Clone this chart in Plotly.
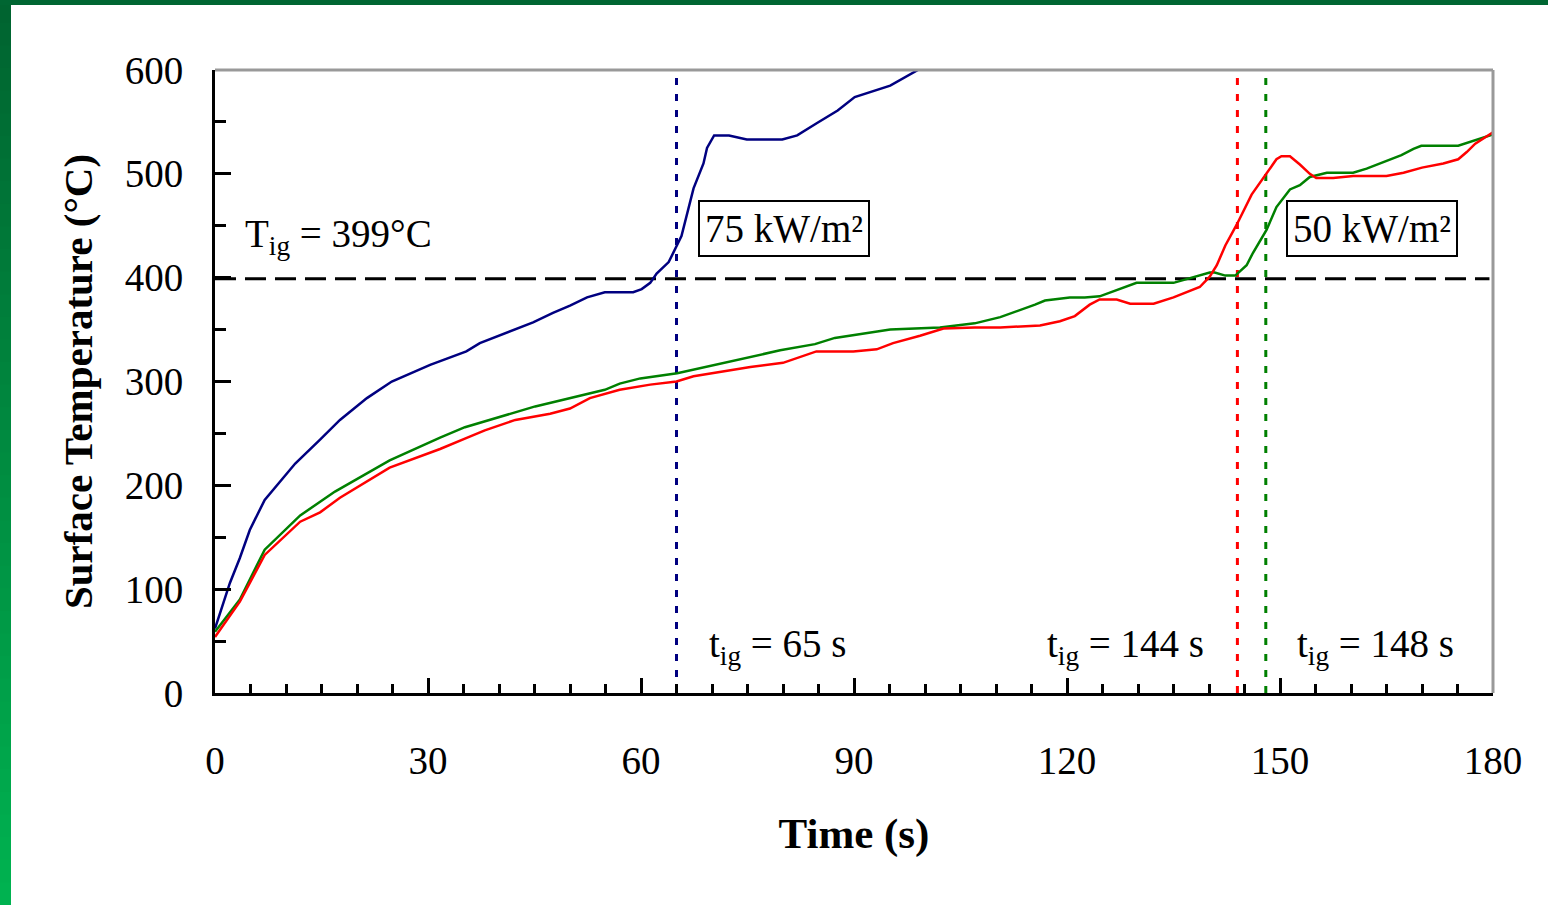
import plotly.graph_objects as go

# ---- data ----
blue_t = [0, 2.1, 3.5, 4.9, 7.0, 11.3, 14.8, 17.6, 21.4, 24.9, 30.3, 35.4, 37.3, 44.8, 47.6, 50.0, 52.4, 54.9, 58.9, 60.1,
          61.3, 62.2, 63.9, 64.6, 65.7, 67.4, 68.8, 69.3, 70.3, 72.4, 74.9, 79.9, 82.0, 84.8, 87.7, 90.1, 93.0, 95.1, 99.0, 102.0]
blue_T = [62, 106, 130, 157, 186, 221, 244, 263, 284, 300, 316, 329, 337, 357, 366, 373, 381, 386, 386, 389,
          395, 404, 415, 425, 440, 486, 510, 525, 537, 537, 533, 533, 537, 549, 561, 574, 580, 585, 600, 615]

green_t = [0, 3.5, 7.0, 12.0, 16.9, 24.6, 31.7, 35.2, 45.1, 54.9, 57.0, 59.9, 65.1, 73.2, 79.6, 84.5, 87.3, 95.1, 102.1, 107.0,
           110.6, 115.5, 116.9, 120.4, 122.5, 124.6, 129.8, 135.0, 140.1, 140.8, 142.3, 143.7, 145.3, 146.2, 148.1,
           149.5, 151.4, 152.8, 154.2, 156.6, 160.3, 162.2, 165.0, 167.1, 168.8, 169.9, 175.1, 176.8, 180.0]
green_T = [59, 90, 138, 171, 194, 224, 246, 256, 276, 292, 298, 303, 308, 320, 330, 336, 342, 350, 352, 356,
           362, 374, 378, 381, 381, 382, 395, 395, 405, 405, 402, 402, 412, 424, 446,
           468, 485, 489, 497, 501, 501, 505, 512, 518, 524, 527, 527, 531, 538]

red_t = [0, 3.5, 7.0, 12.0, 14.8, 17.6, 24.6, 31.7, 35.2, 38.0, 42.3, 47.2, 50.0, 52.8, 57.0, 61.3, 65.0, 67.4, 75.4, 80.0,
         84.7, 89.9, 93.2, 95.5, 99.3, 102.6, 107.0, 110.6, 116.2, 119.0, 121.1, 123.2, 124.6, 127.0, 128.9, 132.2,
         135.0, 137.3, 138.7, 140.1, 141.1, 142.3, 143.9, 146.0, 148.1, 149.5, 150.2, 151.4, 152.8, 154.2, 155.1,
         157.5, 160.3, 165.0, 167.4, 170.0, 173.0, 175.1, 176.3, 177.5, 180.0]
red_T = [54, 88, 133, 165, 174, 188, 217, 235, 245, 253, 263, 269, 274, 284, 292, 297, 300, 305, 314, 318,
         329, 329, 331, 337, 344, 351, 352, 352, 354, 358, 363, 374, 379, 379, 375, 375,
         381, 387, 391, 401, 412, 431, 451, 480, 501, 514, 517, 517, 509, 500, 496,
         496, 498, 498, 501, 506, 510, 514, 521, 529, 540]

ign_times = [65, 144, 148]
ign_colors = ["#000080", "#ff0000", "#008000"]
T_ig = 399
x_ticks = [0, 30, 60, 90, 120, 150, 180]
y_ticks = [0, 100, 200, 300, 400, 500, 600]

FONT = "Times New Roman, Liberation Serif, serif"
W, H = 1548, 905
L, R, T, B = 215, 55, 70, 212

fig = go.Figure()

# ignition time vertical dotted lines
for t, c in zip(ign_times, ign_colors):
    fig.add_trace(go.Scatter(x=[t, t], y=[0, 600], mode="lines",
                             line=dict(color=c, width=3, dash="7px,9px"), hoverinfo="skip"))

# ignition temperature dashed line
fig.add_trace(go.Scatter(x=[0, 179.5], y=[T_ig, T_ig], mode="lines",
                         line=dict(color="black", width=3, dash="21px,9px"), hoverinfo="skip"))

fig.add_trace(go.Scatter(x=blue_t, y=blue_T, mode="lines", line=dict(color="#000080", width=2.5), name="75 kW/m²"))
fig.add_trace(go.Scatter(x=green_t, y=green_T, mode="lines", line=dict(color="#008000", width=2.5), name="50 kW/m² (148 s)"))
fig.add_trace(go.Scatter(x=red_t, y=red_T, mode="lines", line=dict(color="#ff0000", width=2.5), name="50 kW/m² (144 s)"))

# decorative frame: gradient left bar + top bar
pw, ph = W - L - R, H - T - B
def px2x(p): return (p - L) / pw
def py2y(p): return (H - B - p) / ph
shapes = []
N = 40
c0, c1 = (0, 100, 48), (0, 178, 80)
for i in range(N):
    f = i / (N - 1)
    col = "rgb(%d,%d,%d)" % tuple(round(a + (b - a) * f) for a, b in zip(c0, c1))
    shapes.append(dict(type="rect", xref="paper", yref="paper",
                       x0=px2x(0), x1=px2x(11), y0=py2y(H * (i + 1) / N + 1), y1=py2y(H * i / N),
                       fillcolor=col, line=dict(width=0), layer="above"))
shapes.append(dict(type="rect", xref="paper", yref="paper", x0=px2x(0), x1=px2x(W),
                   y0=py2y(5), y1=py2y(0), fillcolor="rgb(0,102,50)", line=dict(width=0), layer="above"))
# gray top/right frame
shapes.append(dict(type="line", xref="paper", yref="paper", x0=0, x1=1, y0=1, y1=1,
                   line=dict(color="#999999", width=3)))
shapes.append(dict(type="line", xref="paper", yref="paper", x0=1, x1=1, y0=0, y1=1,
                   line=dict(color="#999999", width=3)))

annos = [
    dict(x=3.9, y=440, text="T<sub>ig</sub> = 399°C", xanchor="left", yanchor="middle", showarrow=False),
    dict(x=68.0, y=447, text="75 kW/m²", xanchor="left", yanchor="middle", showarrow=False,
         bordercolor="black", borderwidth=2, borderpad=5, bgcolor="white"),
    dict(x=150.8, y=447, text="50 kW/m²", xanchor="left", yanchor="middle", showarrow=False,
         bordercolor="black", borderwidth=2, borderpad=5, bgcolor="white"),
    dict(x=69.3, y=45, text="t<sub>ig</sub> = 65 s", xanchor="left", yanchor="middle", showarrow=False),
    dict(x=116.9, y=45, text="t<sub>ig</sub> = 144 s", xanchor="left", yanchor="middle", showarrow=False),
    dict(x=152.1, y=45, text="t<sub>ig</sub> = 148 s", xanchor="left", yanchor="middle", showarrow=False),
]
for a in annos:
    a["font"] = dict(family=FONT, size=39, color="black")
    a["xref"] = "x"; a["yref"] = "y"

fig.update_layout(
    width=W, height=H, showlegend=False,
    paper_bgcolor="white", plot_bgcolor="white",
    margin=dict(l=L, r=R, t=T, b=B, pad=0),
    font=dict(family=FONT, size=39, color="black"),
    shapes=shapes, annotations=annos,
    xaxis=dict(range=[0, 180], tickvals=x_ticks, ticks="inside", ticklen=15, tickwidth=3, tickcolor="black",
               minor=dict(dtick=5, ticks="inside", ticklen=9, tickwidth=2.5, tickcolor="black"),
               showline=True, linecolor="black", linewidth=3, showgrid=False, zeroline=False,
               tickfont=dict(family=FONT, size=39), ticklabelstandoff=31,
               title=dict(text="<b>Time (s)</b>", font=dict(family=FONT, size=43), standoff=38)),
    yaxis=dict(range=[0, 600], tickvals=y_ticks, ticks="inside", ticklen=16, tickwidth=3, tickcolor="black",
               minor=dict(dtick=50, ticks="inside", ticklen=11, tickwidth=3, tickcolor="black"),
               showline=True, linecolor="black", linewidth=3, showgrid=False, zeroline=False,
               tickfont=dict(family=FONT, size=39), ticklabelstandoff=21,
               title=dict(text="<b>Surface Temperature (°C)</b>", font=dict(family=FONT, size=41), standoff=20)),
)

fig.write_html("out.html", config={"displayModeBar": False},
               post_script="document.body.style.margin='0';document.body.style.overflow='hidden';")
